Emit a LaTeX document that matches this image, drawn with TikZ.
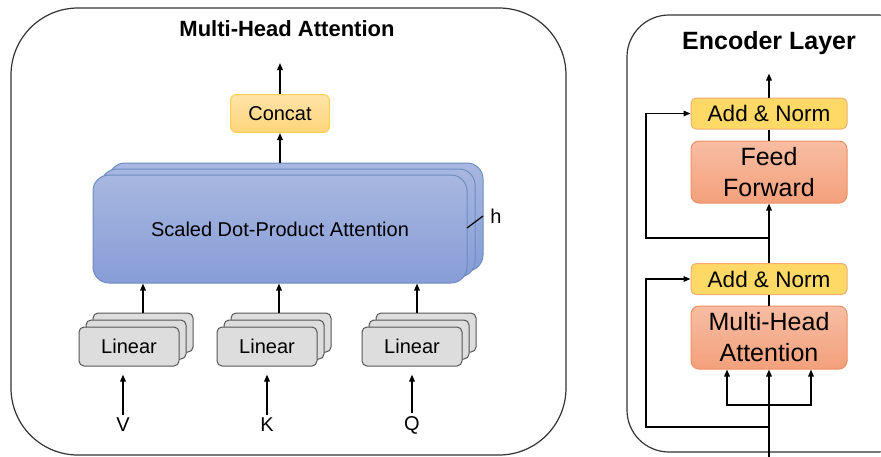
\documentclass[tikz,border=0pt]{standalone}
\usepackage{fontspec}
\setmainfont{Liberation Sans}
\usetikzlibrary{arrows.meta}

\definecolor{framegray}{HTML}{333333}
\definecolor{linfill}{HTML}{DDDDDD}
\definecolor{linline}{HTML}{555555}
\definecolor{sdptop}{HTML}{A8B7E0}
\definecolor{sdpbot}{HTML}{879DD7}
\definecolor{sdpline}{HTML}{6C8EBF}
\definecolor{cattop}{HTML}{FFE3A8}
\definecolor{catbot}{HTML}{FFD57A}
\definecolor{catline}{HTML}{FAD150}
\definecolor{normfill}{HTML}{FFD966}
\definecolor{normline}{HTML}{F2AE70}
\definecolor{fftop}{HTML}{F7BDA3}
\definecolor{ffbot}{HTML}{F3A07B}
\definecolor{ffline}{HTML}{EE9062}

\begin{document}
\begin{tikzpicture}[x=1pt, y=-1pt,
		txt/.style={font=\fontsize{20}{24}\selectfont},
		rtxt/.style={font=\fontsize{25}{31}\selectfont, align=center},
		arr/.style={line width=1.5pt, -{Triangle[length=7pt,width=5.5pt]}},
		wire/.style={line width=1.5pt},
		frame/.style={draw=framegray, line width=1.2pt},
		linbox/.style={draw=linline, fill=linfill, rounded corners=5pt, line width=1pt,
			minimum width=100pt, minimum height=39pt, inner sep=0pt, txt},
		sdpbox/.style={draw=sdpline, top color=sdptop, bottom color=sdpbot, rounded corners=16pt,
			line width=1pt, minimum width=374pt, minimum height=108pt, inner sep=0pt, txt},
		catbox/.style={draw=catline, top color=cattop, bottom color=catbot, rounded corners=6pt,
			line width=1pt, minimum width=99pt, minimum height=38pt, inner sep=0pt, txt},
		normbox/.style={draw=normline, fill=normfill, rounded corners=5pt, line width=1pt,
			minimum width=156pt, minimum height=31pt, inner sep=0pt, font=\fontsize{22.5}{27}\selectfont},
		ffbox/.style={draw=ffline, top color=fftop, bottom color=ffbot, rounded corners=8pt,
			line width=1pt, minimum width=156pt, minimum height=62pt, inner sep=0pt, rtxt}
	]
	\useasboundingbox (0, 0) rectangle (881, 456);
	
	%%%%% MULTI-HEAD ATTENTION %%%%%
	
	\draw[frame, rounded corners=67pt] (11, 8) rectangle (566, 455);
	\node[font=\bfseries\fontsize{22}{26}\selectfont] (mhatitle) at (287, 29) {Multi-Head Attention};
	
	\node[sdpbox] (sdp3) at (296, 217) {};
	\node[sdpbox] (sdp2) at (288, 223) {};
	\node[sdpbox] (sdp) at (280, 229) {Scaled Dot-Product Attention};
	
	\draw[line width=1.2pt] (467, 228) -- (483, 216);
	\node[txt] (heads) at (496, 216) {h};
	
	\node[catbox] (concat) at (280, 113.5) {Concat};
	
	\foreach \n/\x in {v/129, k/267, q/412} {
		\node[linbox] (\n3) at (\x+14, 332.5) {};
		\node[linbox] (\n2) at (\x+7, 339.5) {};
		\node[linbox] (\n1) at (\x, 346.5) {Linear};
	}
	
	\node[txt] (vin) at (123, 425) {V};
	\node[txt] (kin) at (267, 425) {K};
	\node[txt] (qin) at (412, 425) {Q};
	
	\draw[arr, shorten >=8pt] (vin.north) -- (vin.north |- v1.south);
	\draw[arr, shorten >=8pt] (kin.north) -- (kin.north |- k1.south);
	\draw[arr, shorten >=8pt] (qin.north) -- (qin.north |- q1.south);
	
	\draw[arr] (143,0 |- v3.north) -- (143,0 |- sdp.south);
	\draw[arr] (279,0 |- k3.north) -- (279,0 |- sdp.south);
	\draw[arr] (417,0 |- q3.north) -- (417,0 |- sdp.south);
	
	\draw[arr] (concat.south |- sdp3.north) -- (concat.south);
	\draw[arr] (concat.north) -- ++(0, -31);
	
	%%%%% ENCODER LAYER %%%%%
	
	\draw[frame, rounded corners=42pt] (627, 15) rectangle (920, 452);
	\node[font=\bfseries\fontsize{25}{30}\selectfont] (enctitle) at (769, 43) {Encoder Layer};
	
	\node[normbox] (norm2) at (769, 113.5) {Add \& Norm};
	\node[ffbox] (ffwd) at (769, 172) {Feed\\Forward};
	\node[normbox] (norm1) at (769, 279) {Add \& Norm};
	\node[ffbox, minimum height=63pt] (attn) at (769, 337.5) {Multi-Head\\Attention};
	
	\coordinate (inp) at (769, 460);
	\coordinate (split1) at (769, 238);
	\coordinate (fork) at (769, 405);
	\coordinate (split0) at (769, 427);
	
	\draw[arr] (norm2.north) -- ++(0, -24);
	\draw[wire] (ffwd.north) -- (norm2.south);
	\draw[arr] (norm1.north) -- (ffwd.south);
	\draw[wire] (attn.north) -- (norm1.south);
	\draw[arr] (inp) -- (attn.south);
	
	\draw[arr] (fork) -| ([xshift=-42pt]attn.south);
	\draw[arr] (fork) -| ([xshift=42pt]attn.south);
	
	\draw[arr] (split1) -| (646,0 |- norm2.west) -- (norm2.west);
	\draw[arr] (split0) -| (646,0 |- norm1.west) -- (norm1.west);
	
\end{tikzpicture}
\end{document}
